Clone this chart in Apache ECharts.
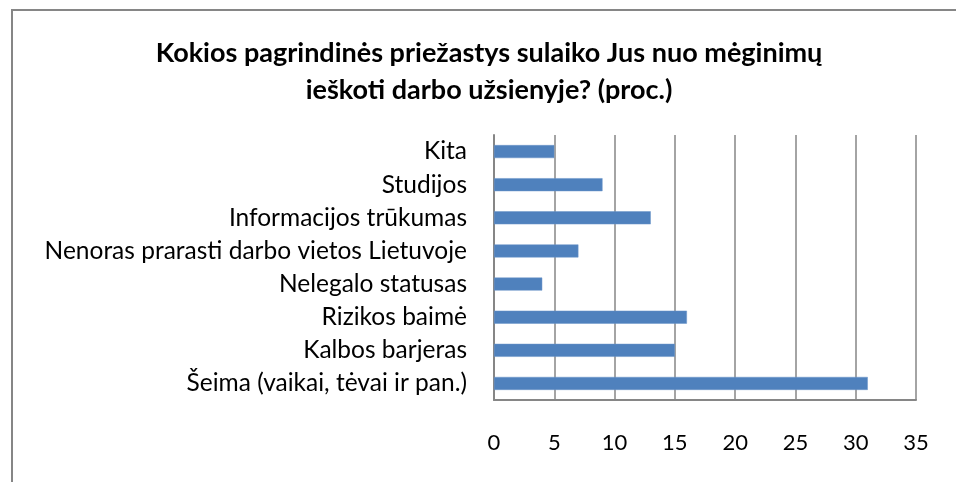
<!DOCTYPE html>
<html>
<head>
<meta charset="utf-8">
<script src="https://cdn.jsdelivr.net/npm/echarts@6/dist/echarts.min.js"></script>
<style>
html,body{margin:0;padding:0;background:#fff;}
#main{width:956px;height:482px;}
</style>
</head>
<body>
<div id="main"></div>
<script>
const categories = [
  'Šeima (vaikai, tėvai ir pan.)',
  'Kalbos barjeras',
  'Rizikos baimė',
  'Nelegalo statusas',
  'Nenoras prarasti darbo vietos Lietuvoje',
  'Informacijos trūkumas',
  'Studijos',
  'Kita'
];
const values = [31, 15, 16, 4, 7, 13, 9, 5];
const xMin = 0, xMax = 35, xStep = 5;

const chart = echarts.init(document.getElementById('main'));
chart.setOption({
  animation: false,
  backgroundColor: '#fff',
  graphic: [{
    type: 'rect',
    shape: {x: 12, y: 10, width: 1000, height: 1000},
    style: {fill: 'none', stroke: '#868686', lineWidth: 2}
  }],
  title: {
    text: 'Kokios pagrindinės priežastys sulaiko Jus nuo mėginimų\nieškoti darbo užsienyje? (proc.)',
    left: 484,
    textAlign: 'center',
    top: 30,
    textStyle: {
      fontFamily: 'Lato',
      fontWeight: 'bold',
      fontSize: 27,
      lineHeight: 37,
      color: '#000'
    }
  },
  grid: {left: 494, right: 40, top: 135, bottom: 82, containLabel: false},
  xAxis: {
    type: 'value',
    min: xMin, max: xMax, interval: xStep,
    axisLine: {show: true, onZero: false, lineStyle: {color: '#868686', width: 2}},
    axisTick: {show: false},
    splitLine: {show: true, lineStyle: {color: '#868686', width: 1.5}},
    axisLabel: {fontFamily: 'Lato', fontSize: 22, color: '#000', margin: 32}
  },
  yAxis: {
    type: 'category',
    data: categories,
    axisLine: {show: true, lineStyle: {color: '#868686', width: 2}},
    axisTick: {show: false},
    axisLabel: {fontFamily: 'Lato', fontSize: 24.5, color: '#000', margin: 27}
  },
  series: [{
    type: 'bar',
    data: values,
    barWidth: 13,
    itemStyle: {color: '#4F81BD', borderColor: '#6a95c9', borderWidth: 0.5}
  }]
});
</script>
</body>
</html>
